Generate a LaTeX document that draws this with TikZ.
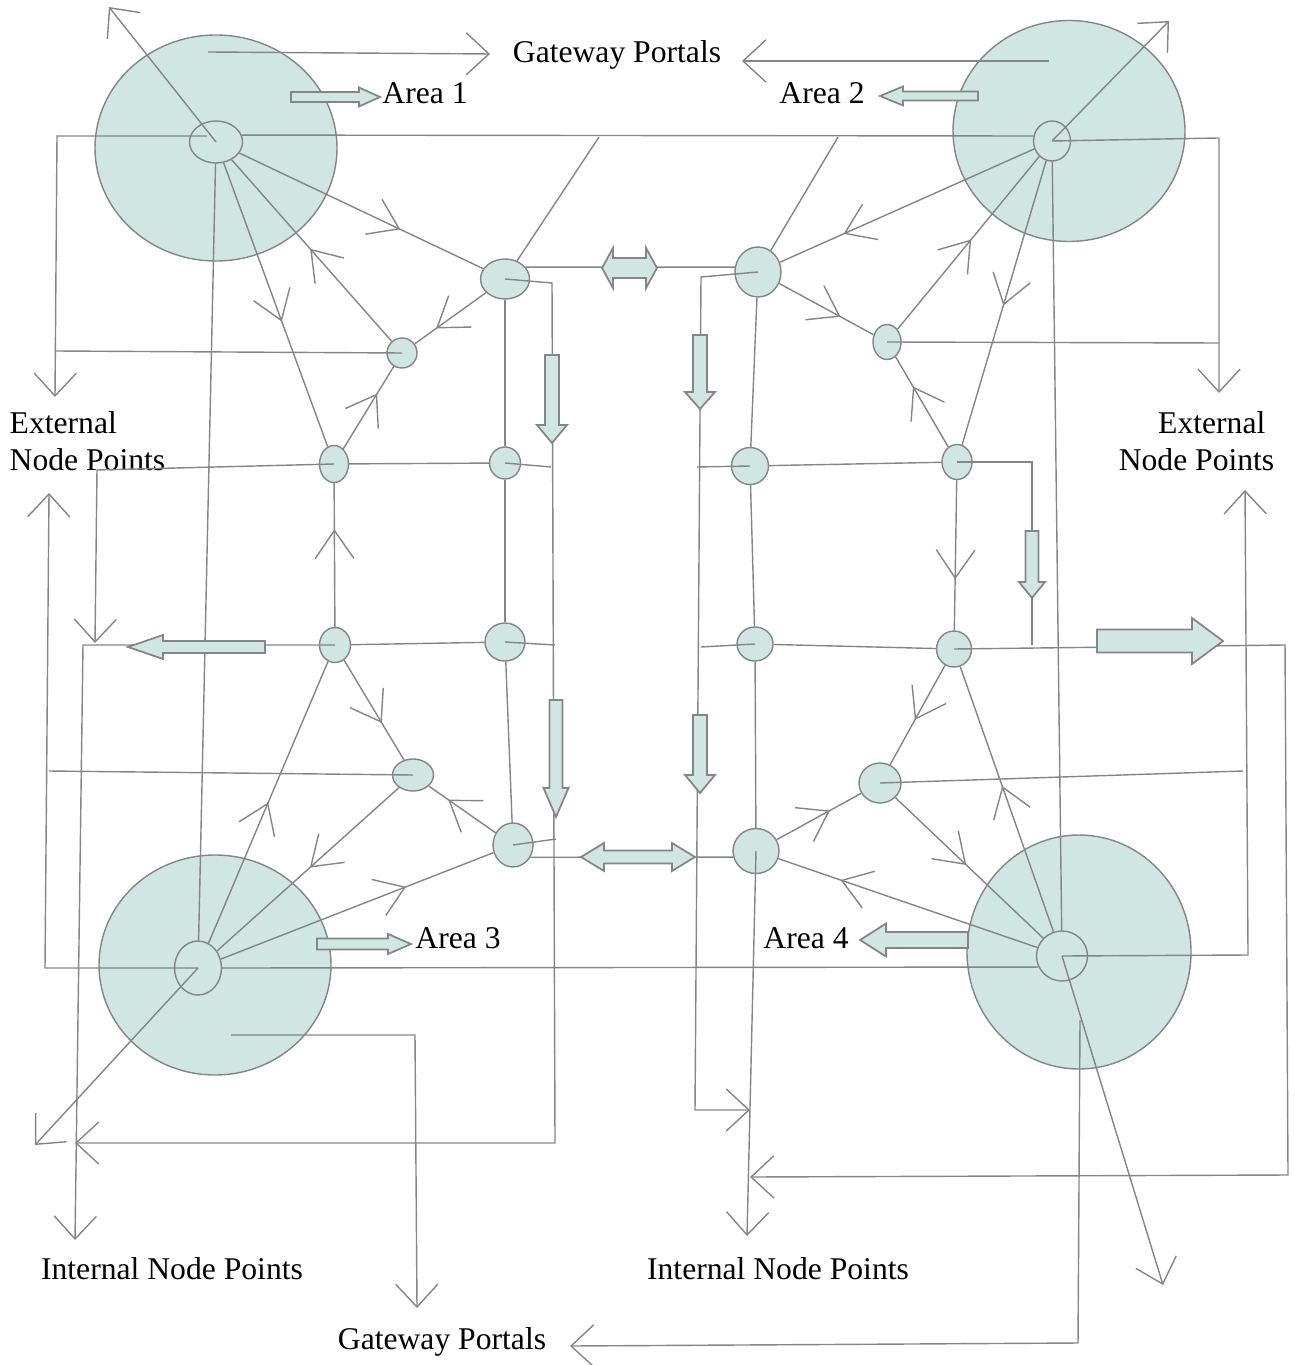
\documentclass[tikz,border=0pt]{standalone}
\usepackage{fontspec}
\setmainfont{Liberation Serif}
\usepackage{xcolor}
\usepackage{tikz}
\usetikzlibrary{arrows.meta,shapes.geometric,decorations.markings}

\definecolor{linegray}{HTML}{858585}
\definecolor{zonefill}{HTML}{CFE6E3}

% block arrow: tail, direction, length, shaft half width, head half width, head length
\newcommand{\fatarrow}[6]{%
  \draw[blockarr, shift={#1}, rotate=#2] (0,-#4) -- (#3-#6,-#4) -- (#3-#6,-#5) -- (#3,0)
    -- (#3-#6,#5) -- (#3-#6,#4) -- (0,#4) -- cycle;}
% double block arrow: centre, half length, shaft half width, head half width, head length
\newcommand{\dblarrow}[5]{%
  \draw[blockarr, shift={#1}] (-#2,0) -- (-#2+#5,-#4) -- (-#2+#5,-#3) -- (#2-#5,-#3)
    -- (#2-#5,-#4) -- (#2,0) -- (#2-#5,#4) -- (#2-#5,#3) -- (-#2+#5,#3) -- (-#2+#5,#4) -- cycle;}

\begin{document}
\begin{tikzpicture}[x=0.1mm, y=-0.1mm, color=linegray, line width=0.4pt,
    blob/.style 2 args={ellipse, draw, fill=zonefill, inner sep=0pt,
        minimum width=#1mm, minimum height=#2mm},
    lbl/.style={text=black, inner sep=0pt, font=\fontsize{9}{10.5}\selectfont},
    blockarr/.style={draw, fill=zonefill, line width=0.5pt},
    flow/.style={postaction={decorate}, decoration={markings,
        mark=at position #1 with {\arrow{Straight Barb[length=8pt,width=11pt]}}}},
    >={Straight Barb[length=6.5pt,width=12pt]}]
    \useasboundingbox (0,0) rectangle (1294,1365);

    % Areas
    \node[blob={24.2}{22.6}] (a1) at (216,148) {};
    \node[blob={23.2}{22.1}] (a2) at (1069,131) {};
    \node[blob={23.2}{22.0}] (a3) at (215,965) {};
    \node[blob={22.4}{23.4}] (a4) at (1079,952) {};

    % Hubs
    \node[blob={5.3}{4.2}] (h1) at (216,142) {};
    \node[blob={3.7}{4.0}] (h2) at (1052,141) {};
    \node[blob={4.7}{5.4}] (h3) at (198,968) {};
    \node[blob={5.1}{5.0}] (h4) at (1062,956) {};

    % Node points, left
    \node[blob={4.9}{4.0}] (n1) at (505,279) {};
    \node[blob={3.0}{3.0}] (n2) at (402,353) {};
    \node[blob={2.9}{3.7}] (n3) at (334,464) {};
    \node[blob={3.1}{3.2}] (n4) at (505,463) {};
    \node[blob={3.1}{3.5}] (n5) at (335,645) {};
    \node[blob={4.0}{3.8}] (n6) at (505,642) {};
    \node[blob={4.1}{3.2}] (n7) at (413,775) {};
    \node[blob={4.0}{4.4}] (n8) at (513,845) {};

    % Node points, right
    \node[blob={4.6}{5.0}] (m1) at (758,272) {};
    \node[blob={2.8}{3.5}] (m2) at (887,342) {};
    \node[blob={3.7}{3.7}] (m3) at (750,466) {};
    \node[blob={3.0}{3.5}] (m4) at (957,462) {};
    \node[blob={3.6}{3.4}] (m5) at (755,644) {};
    \node[blob={3.5}{3.6}] (m6) at (954,649) {};
    \node[blob={4.2}{4.0}] (m7) at (880,783) {};
    \node[blob={4.6}{4.5}] (m8) at (756,851) {};

    % Labels
    \node[lbl] (gwtop) at (617,55) {Gateway Portals};
    \node[lbl] (gwbot) at (442,1342) {Gateway Portals};
    \node[lbl] (lab1) at (425,93) {Area 1};
    \node[lbl] (lab2) at (822,93) {Area 2};
    \node[lbl] (lab3) at (458,938) {Area 3};
    \node[lbl] (lab4) at (806,938) {Area 4};
    \node[lbl, anchor=west, align=left] (extl) at (9,441) {External\\Node Points};
    \node[lbl, anchor=east, align=right] (extr) at (1275,441) {External\hspace*{0.9mm}\\Node Points};
    \node[lbl] (intl) at (172,1269) {Internal Node Points};
    \node[lbl] (intr) at (778,1269) {Internal Node Points};

    % Gateway portals
    \draw[->] (208,52) -- (490,54);
    \draw[->] (1049,61) -- (742,61);
    \draw[->] (231,1035) -- (415,1035) -- (417,1308);
    \draw[->] (1080,1020) -- (1078,1343) -- (570,1346);

    % Hubs to the outside
    \draw[->] (h1.center) -- (109,7);
    \draw[->] (h2.center) -- (1169,21);
    \draw[->] (h3.center) -- (35,1145);
    \draw[->] (h4.center) -- (1163,1285);

    % External node points
    \draw[->] (207,136) -- (57,136) -- (55,397);
    \draw[->] (h2.center) -- (1219,138) -- (1219,393);
    \draw (h1.15) -- (h2.165);
    \draw (n2.center) -- (55,351);
    \draw (m2.center) -- (1219,343);
    \draw[->] (h3.center) -- (45,968) -- (49,493);
    \draw[->] (h4.center) -- (1248,955) -- (1245,490);
    \draw (h3.east) -- (h4.205);
    \draw (n7.center) -- (49,771);
    \draw (m7.center) -- (1243,771);
    \draw[->] (n3.center) -- (97,470) -- (95,643);
    \draw[->] (n5.center) -- (83,645) -- (75,1240);

    % Internal node points
    \draw[->] (n1.center) -- (552,283) -- (555,1143) -- (75,1143);
    \draw (n4.center) -- (551,467);
    \draw (n6.center) -- (555,645);
    \draw (n8.center) -- (556,839);
    \draw[->] (m1.center) -- (701,277) -- (695,1110) -- (750,1110);
    \draw (m3.center) -- (697,467);
    \draw (m5.center) -- (701,647);
    \draw (m4.center) -- (1032,462) -- (1032,645);
    \draw[->] (m6.center) -- (1285,645) -- (1288,1175) -- (750,1177);
    \draw[->] (m8.center) -- (747,1236);

    % Links between the sides
    \draw (n1) -- (599,137);
    \draw (m1) -- (838,137);
    \draw (n1.30) -- (m1.168);
    \draw (n8.-35) -- (m8.195);
    \draw (h1) -- (h3);
    \draw (h2) -- (h4);

    % Left mesh
    \draw[flow=0.66] (h1) -- (n1);
    \draw[flow=0.51] (n2) -- (h1);
    \draw[flow=0.56] (h1) -- (n3);
    \draw[flow=0.70] (n1) -- (n2);
    \draw[flow=0.67] (n3) -- (n2);
    \draw (n1) -- (n4);
    \draw (n3) -- (n4);
    \draw[flow=0.68] (n5) -- (n3);
    \draw (n4) -- (n6);
    \draw (n5) -- (n6);
    \draw[flow=0.63] (n5) -- (n7);
    \draw[flow=0.71] (n8) -- (n7);
    \draw (n6) -- (n8);
    \draw[flow=0.50] (h3) -- (n5);
    \draw[flow=0.49] (n7) -- (h3);
    \draw[flow=0.68] (h3) -- (n8);

    % Right mesh
    \draw[flow=0.75] (h2) -- (m1);
    \draw[flow=0.52] (m2) -- (h2);
    \draw[flow=0.51] (h2) -- (m4);
    \draw[flow=0.65] (m1) -- (m2);
    \draw[flow=0.67] (m4) -- (m2);
    \draw (m1) -- (m3);
    \draw (m3) -- (m4);
    \draw[flow=0.66] (m4) -- (m6);
    \draw (m3) -- (m5);
    \draw (m5) -- (m6);
    \draw[flow=0.55] (m6) -- (m7);
    \draw (m5) -- (m8);
    \draw[flow=0.63] (m8) -- (m7);
    \draw[flow=0.55] (h4) -- (m6);
    \draw[flow=0.48] (m7) -- (h4);
    \draw[flow=0.76] (h4) -- (m8);

    % Block arrows
    \fatarrow{(291,97)}{0}{89}{5}{9.5}{21}
    \fatarrow{(978,96)}{180}{98}{4.5}{9.5}{23}
    \fatarrow{(317,944)}{0}{94}{5.5}{10}{23}
    \fatarrow{(968,940)}{180}{108}{8}{16.5}{26}
    \fatarrow{(552,355)}{-90}{88}{7}{15}{18}
    \fatarrow{(700,335)}{-90}{74}{7}{15}{17}
    \fatarrow{(556,700)}{-90}{117}{6.5}{12.5}{29}
    \fatarrow{(700,715)}{-90}{78}{7}{15}{18}
    \fatarrow{(1032,531)}{-90}{67}{6.5}{13}{16}
    \fatarrow{(265,647)}{180}{137}{6}{12}{35}
    \fatarrow{(1097,641)}{0}{126}{11.5}{23}{31}
    \dblarrow{(629.5,268)}{27.5}{10}{20}{11}
    \dblarrow{(638,857)}{57}{6.5}{14}{23}
\end{tikzpicture}
\end{document}
